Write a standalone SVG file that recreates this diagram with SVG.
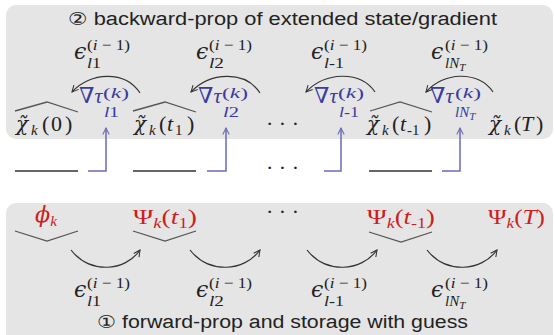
<svg xmlns="http://www.w3.org/2000/svg" width="555" height="335" viewBox="0 0 555 335">
<style>
.box{fill:#e5e5e5}
.title{font-family:"Liberation Sans","DejaVu Sans",sans-serif;font-size:18px;fill:#222}
.m{font-family:"Liberation Serif","DejaVu Serif",serif;font-size:22px;fill:#222}
.g{font-family:"DejaVu Serif",serif}
.i{font-style:italic}
.s{font-size:15px}
.red{fill:#cc1f1f}
.blue{fill:#3a3aa0}
.arc{fill:none;stroke:#333;stroke-width:1.2}
.brace{fill:none;stroke:#555;stroke-width:1.3}
.gl{fill:none;stroke:#666;stroke-width:1.8}
.bl{fill:none;stroke:#6a6ab8;stroke-width:1.5}
</style>
<defs>
<marker id="ah" viewBox="0 0 10 10" refX="9" refY="5" markerWidth="8" markerHeight="8" orient="auto" markerUnits="userSpaceOnUse">
<path d="M1,1 L9,5 L1,9" fill="none" stroke="#333" stroke-width="1.3"/>
</marker>
<marker id="ahb" viewBox="0 0 10 10" refX="9" refY="5" markerWidth="8" markerHeight="8" orient="auto" markerUnits="userSpaceOnUse">
<path d="M1,1 L9,5 L1,9" fill="none" stroke="#6a6ab8" stroke-width="1.3"/>
</marker>
</defs>

<g id="backward-panel">
<rect class="box" x="6" y="5" width="547" height="134" rx="10"/>
<text class="title" x="68" y="25" textLength="429" lengthAdjust="spacingAndGlyphs">② backward-prop of extended state/gradient</text>
</g>
<g id="forward-panel">
<rect class="box" x="6" y="203" width="547" height="142" rx="10"/>
<text class="title" x="97" y="328" textLength="371" lengthAdjust="spacingAndGlyphs">① forward-prop and storage with guess</text>
</g>

<!-- top epsilons -->
<g id="eps-top-1">
<text class="m g i" x="74" y="59" font-size="20px">ϵ</text>
<text class="m s" x="87" y="50" textLength="43" lengthAdjust="spacingAndGlyphs">(<tspan class="i">i</tspan> − 1)</text>
<text class="m s i" x="87" y="68" textLength="14" lengthAdjust="spacingAndGlyphs">l<tspan font-style="normal">1</tspan></text>
</g>
<g id="eps-top-2">
<text class="m g i" x="196" y="59" font-size="20px">ϵ</text>
<text class="m s" x="209" y="50" textLength="43" lengthAdjust="spacingAndGlyphs">(<tspan class="i">i</tspan> − 1)</text>
<text class="m s i" x="209" y="68" textLength="15" lengthAdjust="spacingAndGlyphs">l<tspan font-style="normal">2</tspan></text>
</g>
<g id="eps-top-3">
<text class="m g i" x="311" y="59" font-size="20px">ϵ</text>
<text class="m s" x="324" y="50" textLength="43" lengthAdjust="spacingAndGlyphs">(<tspan class="i">i</tspan> − 1)</text>
<text class="m s i" x="324" y="68" textLength="20" lengthAdjust="spacingAndGlyphs">l<tspan font-style="normal">-1</tspan></text>
</g>
<g id="eps-top-4">
<text class="m g i" x="431" y="59" font-size="20px">ϵ</text>
<text class="m s" x="445" y="50" textLength="43" lengthAdjust="spacingAndGlyphs">(<tspan class="i">i</tspan> − 1)</text>
<text class="m s i" x="445" y="68">lN<tspan font-size="11px" dy="3">T</tspan></text>
</g>

<!-- gradient labels -->
<g id="grad-1">
<text class="m blue" x="79" y="103">∇<tspan class="i">τ</tspan></text>
<text class="m s blue" x="103" y="98" textLength="26" lengthAdjust="spacingAndGlyphs">(<tspan class="i">k</tspan>)</text>
<text class="m s i blue" x="104" y="117" textLength="15" lengthAdjust="spacingAndGlyphs">l<tspan font-style="normal">1</tspan></text>
</g>
<g id="grad-2">
<text class="m blue" x="198" y="103">∇<tspan class="i">τ</tspan></text>
<text class="m s blue" x="222" y="98" textLength="26" lengthAdjust="spacingAndGlyphs">(<tspan class="i">k</tspan>)</text>
<text class="m s i blue" x="223" y="117" textLength="16" lengthAdjust="spacingAndGlyphs">l<tspan font-style="normal">2</tspan></text>
</g>
<g id="grad-3">
<text class="m blue" x="314" y="103">∇<tspan class="i">τ</tspan></text>
<text class="m s blue" x="338" y="98" textLength="26" lengthAdjust="spacingAndGlyphs">(<tspan class="i">k</tspan>)</text>
<text class="m s i blue" x="339" y="117" textLength="20" lengthAdjust="spacingAndGlyphs">l<tspan font-style="normal">-1</tspan></text>
</g>
<g id="grad-4">
<text class="m blue" x="430" y="103">∇<tspan class="i">τ</tspan></text>
<text class="m s blue" x="455" y="98" textLength="26" lengthAdjust="spacingAndGlyphs">(<tspan class="i">k</tspan>)</text>
<text class="m s i blue" x="455" y="117">lN<tspan font-size="11px" dy="3">T</tspan></text>
</g>

<!-- extended states -->
<g id="chi-0">
<text class="m"><tspan class="g i" x="16" y="131" font-size="20px">χ̃</tspan><tspan class="i s" x="31" y="135">k</tspan><tspan x="42" y="131">(</tspan><tspan x="51" y="131">0</tspan><tspan x="65" y="131">)</tspan></text>
</g>
<g id="chi-t1">
<text class="m"><tspan class="g i" x="134" y="131" font-size="20px">χ̃</tspan><tspan class="i s" x="149" y="135">k</tspan><tspan x="159" y="131">(</tspan><tspan class="i" x="167" y="131">t</tspan><tspan class="s" x="175" y="135">1</tspan><tspan x="187" y="131">)</tspan></text>
</g>
<g id="dots-top"><text class="m" x="266" y="131">· · ·</text></g>
<g id="chi-tm1">
<text class="m"><tspan class="g i" x="367" y="131" font-size="20px">χ̃</tspan><tspan class="i s" x="382" y="135">k</tspan><tspan x="392" y="131">(</tspan><tspan class="i" x="400" y="131">t</tspan><tspan class="s" x="407" y="135">-1</tspan><tspan x="424" y="131">)</tspan></text>
</g>
<g id="chi-T">
<text class="m"><tspan class="g i" x="489" y="131" font-size="20px">χ̃</tspan><tspan class="i s" x="504" y="135">k</tspan><tspan x="514" y="131">(</tspan><tspan class="i" x="521" y="131">T</tspan><tspan x="536" y="131">)</tspan></text>
</g>

<!-- middle -->
<g id="dots-mid"><text class="m" x="266" y="175">· · ·</text></g>

<!-- bottom states -->
<g id="phi">
<text class="m red" x="35" y="222" textLength="22" lengthAdjust="spacingAndGlyphs"><tspan class="g i">ϕ</tspan><tspan class="i s" dy="4">k</tspan></text>
</g>
<g id="psi-t1">
<text class="m red" x="133" y="224" textLength="64" lengthAdjust="spacingAndGlyphs">Ψ<tspan class="i s" dy="4">k</tspan><tspan dy="-4">(</tspan><tspan class="i">t</tspan><tspan class="s" dy="4">1</tspan><tspan dy="-4">)</tspan></text>
</g>
<g id="dots-bot"><text class="m" x="266" y="219">· · ·</text></g>
<g id="psi-tm1">
<text class="m red" x="367" y="224" textLength="68" lengthAdjust="spacingAndGlyphs">Ψ<tspan class="i s" dy="4">k</tspan><tspan dy="-4">(</tspan><tspan class="i">t</tspan><tspan class="s" dy="4">-1</tspan><tspan dy="-4">)</tspan></text>
</g>
<g id="psi-T">
<text class="m red" x="488" y="224" textLength="57" lengthAdjust="spacingAndGlyphs">Ψ<tspan class="i s" dy="4">k</tspan><tspan dy="-4">(</tspan><tspan class="i">T</tspan>)</text>
</g>

<!-- bottom epsilons -->
<g id="eps-bot-1">
<text class="m g i" x="74" y="297" font-size="20px">ϵ</text>
<text class="m s" x="87" y="288" textLength="43" lengthAdjust="spacingAndGlyphs">(<tspan class="i">i</tspan> − 1)</text>
<text class="m s i" x="87" y="306" textLength="14" lengthAdjust="spacingAndGlyphs">l<tspan font-style="normal">1</tspan></text>
</g>
<g id="eps-bot-2">
<text class="m g i" x="196" y="297" font-size="20px">ϵ</text>
<text class="m s" x="209" y="288" textLength="43" lengthAdjust="spacingAndGlyphs">(<tspan class="i">i</tspan> − 1)</text>
<text class="m s i" x="209" y="306" textLength="15" lengthAdjust="spacingAndGlyphs">l<tspan font-style="normal">2</tspan></text>
</g>
<g id="eps-bot-3">
<text class="m g i" x="311" y="297" font-size="20px">ϵ</text>
<text class="m s" x="324" y="288" textLength="43" lengthAdjust="spacingAndGlyphs">(<tspan class="i">i</tspan> − 1)</text>
<text class="m s i" x="324" y="306" textLength="20" lengthAdjust="spacingAndGlyphs">l<tspan font-style="normal">-1</tspan></text>
</g>
<g id="eps-bot-4">
<text class="m g i" x="431" y="297" font-size="20px">ϵ</text>
<text class="m s" x="445" y="288" textLength="43" lengthAdjust="spacingAndGlyphs">(<tspan class="i">i</tspan> − 1)</text>
<text class="m s i" x="445" y="306">lN<tspan font-size="11px" dy="3">T</tspan></text>
</g>

<g id="connectors">
<path class="brace" d="M15,111 L47,102 L78,112"/>
<path class="brace" d="M133,111 L165,102 L196,112"/>
<path class="brace" d="M370,111 L400,102 L432,112"/>
<path class="arc" marker-end="url(#ah)" d="M140,93 C125,70 90,72 72,92"/>
<path class="arc" marker-end="url(#ah)" d="M260,93 C245,70 210,72 191,92"/>
<path class="arc" marker-end="url(#ah)" d="M375,92 C360,70 325,72 306,92"/>
<path class="arc" marker-end="url(#ah)" d="M493,92 C478,70 443,72 426,92"/>
<path class="gl" d="M15,171 H78"/>
<path class="gl" d="M133,171 H196"/>
<path class="gl" d="M369,171 H432"/>
<path class="bl" marker-end="url(#ahb)" d="M88,171 H106 V128"/>
<path class="bl" marker-end="url(#ahb)" d="M207,171 H226 V128"/>
<path class="bl" marker-end="url(#ahb)" d="M324,171 H341 V128"/>
<path class="bl" marker-end="url(#ahb)" d="M442,171 H460 V128"/>
<path class="brace" d="M15,231 L47,241 L78,231"/>
<path class="brace" d="M133,231 L165,241 L196,231"/>
<path class="brace" d="M369,232 L401,242 L432,232"/>
<path class="arc" marker-end="url(#ah)" d="M71,250 C90,274 125,272 140,250"/>
<path class="arc" marker-end="url(#ah)" d="M190,250 C209,274 244,272 260,250"/>
<path class="arc" marker-end="url(#ah)" d="M307,250 C326,274 361,272 377,250"/>
<path class="arc" marker-end="url(#ah)" d="M427,250 C446,274 481,272 497,250"/>
</g>
</svg>
